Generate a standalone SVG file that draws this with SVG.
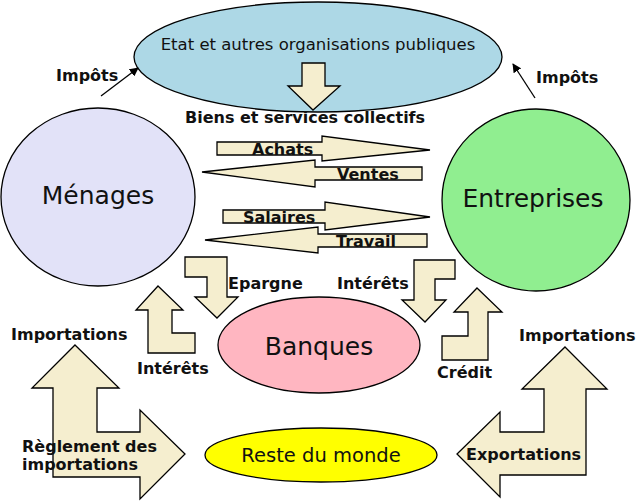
<svg xmlns="http://www.w3.org/2000/svg" width="640" height="501" viewBox="0 0 640 501">
<defs>
<marker id="ah" viewBox="0 0 10 10" refX="9" refY="5" markerWidth="9" markerHeight="9" markerUnits="userSpaceOnUse" orient="auto"><path d="M0,0 L10,5 L0,10 z" fill="#000"/></marker>
<style>
.node{stroke:#000;stroke-width:1.3}
.nl{font-family:"DejaVu Sans","Liberation Sans",sans-serif;text-anchor:middle;fill:#111}
.ar{fill:#f5eecf;stroke:#000;stroke-width:1.3;stroke-linejoin:miter}
.lb{font-family:"DejaVu Sans","Liberation Sans",sans-serif;font-weight:bold;font-size:16px;fill:#111}
.ln{stroke:#000;stroke-width:1.3;fill:none}
</style>
</defs>
<rect width="640" height="501" fill="#fff"/>
<g id="etat">
<ellipse class="node" cx="318" cy="57" rx="184" ry="55" fill="#add8e6"/>
<text class="nl" x="318" y="50" font-size="16.5">Etat et autres organisations publiques</text>
</g>
<g id="menages">
<ellipse class="node" cx="98" cy="197" rx="97" ry="89" fill="#e2e2f8"/>
<text class="nl" x="98" y="204" font-size="25">Ménages</text>
</g>
<g id="entreprises">
<ellipse class="node" cx="536" cy="200" rx="94" ry="91" fill="#90ee90"/>
<text class="nl" x="533" y="207" font-size="25">Entreprises</text>
</g>
<g id="banques">
<ellipse class="node" cx="319" cy="345" rx="101" ry="48" fill="#ffb6c1"/>
<text class="nl" x="319" y="355" font-size="25">Banques</text>
</g>
<g id="reste">
<ellipse class="node" cx="321" cy="455" rx="116" ry="27" fill="#ffff00"/>
<text class="nl" x="321" y="462" font-size="19.5">Reste du monde</text>
</g>
<g id="connectors">
<path class="ar" d="M302,63 L325,63 L325,86 L340,86 L313,110 L288,86 L302,86 Z"/>
<path class="ar" d="M217,142 L322,142 L322,136 L430,150 L322,161 L322,155 L217,155 Z"/>
<path class="ar" d="M422,167 L315,167 L315,160 L202,172 L315,187 L315,180 L422,180 Z"/>
<path class="ar" d="M223,210 L325,210 L325,202 L430,217 L325,230 L325,223 L223,223 Z"/>
<path class="ar" d="M427,234 L318,234 L318,227 L205,240 L318,253 L318,247 L427,247 Z"/>
<path class="ar" d="M185,257 L227,257 L227,297 L238,297 L217,318 L195,297 L207,297 L207,277 L185,277 Z"/>
<path class="ar" d="M158,286 L183,310 L172,310 L172,333 L195,333 L195,353 L148,353 L148,310 L136,310 Z"/>
<path class="ar" d="M414,260 L455,260 L455,279 L435,279 L435,300 L446,300 L425,322 L402,300 L414,300 Z"/>
<path class="ar" d="M477,288 L502,312 L488,312 L488,360 L442,360 L442,336 L468,336 L468,312 L454,312 Z"/>
<path class="ar" d="M75,345 L119,388 L97,388 L97,432 L140,432 L140,410 L185,454 L140,499 L140,477 L53,477 L53,388 L32,388 Z"/>
<path class="ar" d="M565,347 L607,389 L586,389 L586,475 L500,475 L500,497 L457,454 L500,412 L500,432 L544,432 L544,389 L522,389 Z"/>
<line class="ln" x1="101" y1="96" x2="138" y2="68" marker-end="url(#ah)"/>
<line class="ln" x1="535" y1="98" x2="513" y2="64" marker-end="url(#ah)"/>
<text class="lb" x="56" y="81">Impôts</text>
<text class="lb" x="536" y="83">Impôts</text>
<text class="lb" x="185" y="123" font-size="16.5">Biens et services collectifs</text>
<text class="lb" x="252" y="155">Achats</text>
<text class="lb" x="337" y="180">Ventes</text>
<text class="lb" x="243" y="223">Salaires</text>
<text class="lb" x="336" y="247">Travail</text>
<text class="lb" x="228" y="289">Epargne</text>
<text class="lb" x="337" y="289">Intérêts</text>
<text class="lb" x="137" y="374">Intérêts</text>
<text class="lb" x="437" y="378">Crédit</text>
<text class="lb" x="11" y="340">Importations</text>
<text class="lb" x="519" y="341">Importations</text>
<text class="lb" x="22" y="452">Règlement des</text>
<text class="lb" x="22" y="470">importations</text>
<text class="lb" x="466" y="460">Exportations</text>
</g>
</svg>
